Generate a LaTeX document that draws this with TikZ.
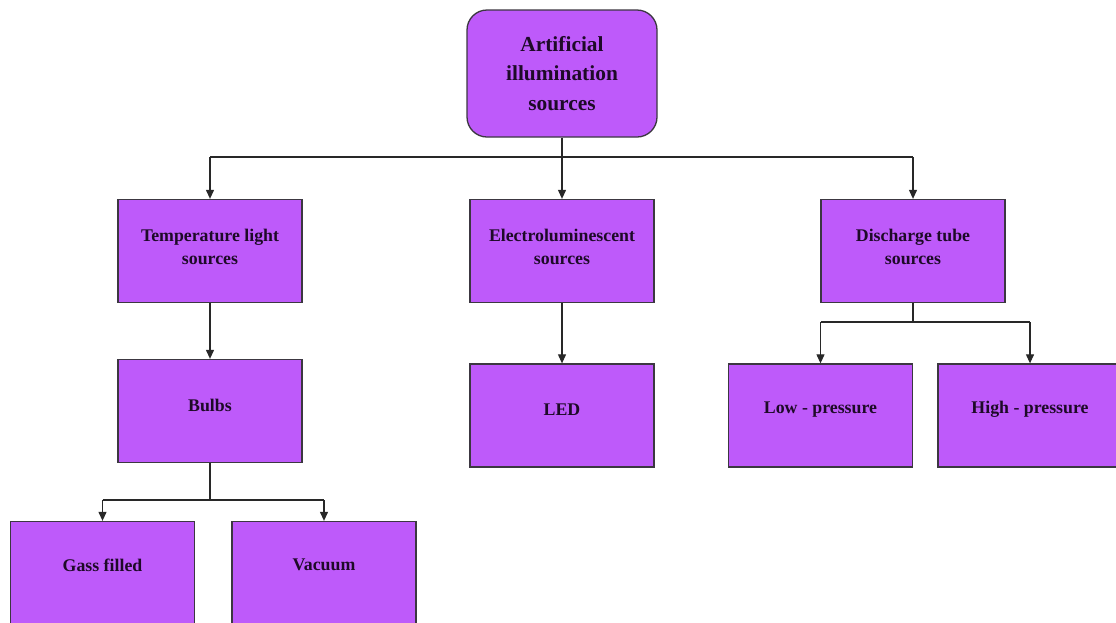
\documentclass[tikz,border=0pt]{standalone}
\usepackage{fontspec}
\setmainfont{Liberation Serif}
\usetikzlibrary{arrows.meta}
\definecolor{boxfill}{RGB}{190,90,250}
\definecolor{boxline}{RGB}{60,55,65}
\definecolor{txt}{RGB}{30,10,40}
\definecolor{conn}{RGB}{40,40,40}
\tikzset{
  box/.style={draw=boxline, fill=boxfill, line width=1.3pt, minimum width=184pt, minimum height=103pt, inner sep=0pt},
  rootbox/.style={box, rounded corners=20pt, minimum width=190pt, minimum height=127pt},
  lbl/.style={text=txt, font=\bfseries\fontsize{17.8}{23}\selectfont, align=center, inner sep=0pt},
  rootlbl/.style={text=txt, font=\bfseries\fontsize{21.4}{29.5}\selectfont, align=center, inner sep=0pt},
  arr/.style={draw=conn, line width=1.1pt, -{Triangle[length=9pt,width=8pt]}},
  ln/.style={draw=conn, line width=1.1pt}
}
\begin{document}
\begin{tikzpicture}[x=1pt,y=-1pt]
\useasboundingbox (0,0) rectangle (1116,622);
\clip (0,0) rectangle (1116,622);
\fill[white] (0,0) rectangle (1116,622);
% boxes
\node[rootbox] (root) at (562,73.5) {};
\node[rootlbl] (rootT) at (root.center) {Artificial\\illumination\\sources};
\node[box] (temp) at (210,251) {};
\node[lbl] (tempT) at ([yshift=4.5]temp.center) {Temperature light\\sources};
\node[box] (elec) at (562,251) {};
\node[lbl] (elecT) at ([yshift=4.5]elec.center) {Electroluminescent\\sources};
\node[box] (dis) at (913,251) {};
\node[lbl] (disT) at ([yshift=4.5]dis.center) {Discharge tube\\sources};
\node[box] (bulbs) at (210,411) {};
\node[lbl] (bulbsT) at ([yshift=6]bulbs.center) {Bulbs};
\node[box] (led) at (562,415.5) {};
\node[lbl] (ledT) at ([yshift=6]led.center) {LED};
\node[box] (low) at (820.5,415.5) {};
\node[lbl] (lowT) at ([yshift=6]low.center) {Low - pressure};
\node[box] (high) at (1030,415.5) {};
\node[lbl] (highT) at ([yshift=6]high.center) {High - pressure};
\node[box] (gass) at (102.5,573) {};
\node[lbl] (gassT) at ([yshift=8]gass.center) {Gass filled};
\node[box] (vac) at (324,573) {};
\node[lbl] (vacT) at ([yshift=8]vac.center) {Vacuum};
% junction coordinates
\coordinate (busL) at (temp.north |- 0,157);
\coordinate (busR) at (dis.north |- 0,157);
\coordinate (disJ) at (dis.south |- 0,322);
\coordinate (lowJ) at (low.north |- 0,322);
\coordinate (highJ) at (high.north |- 0,322);
\coordinate (bulJ) at (bulbs.south |- 0,500);
\coordinate (gassJ) at (gass.north |- 0,500);
\coordinate (vacJ) at (vac.north |- 0,500);
% connectors
\draw[arr] (root.south) -- (elec.north);
\draw[ln] (busL) -- (busR);
\draw[arr] (busL) -- (temp.north);
\draw[arr] (busR) -- (dis.north);
\draw[arr] (temp.south) -- (bulbs.north);
\draw[arr] (elec.south) -- (led.north);
\draw[ln] (dis.south) -- (disJ);
\draw[ln] (lowJ) -- (highJ);
\draw[arr] (lowJ) -- (low.north);
\draw[arr] (highJ) -- (high.north);
\draw[ln] (bulbs.south) -- (bulJ);
\draw[ln] (gassJ) -- (vacJ);
\draw[arr] (gassJ) -- (gass.north);
\draw[arr] (vacJ) -- (vac.north);
\end{tikzpicture}
\end{document}
